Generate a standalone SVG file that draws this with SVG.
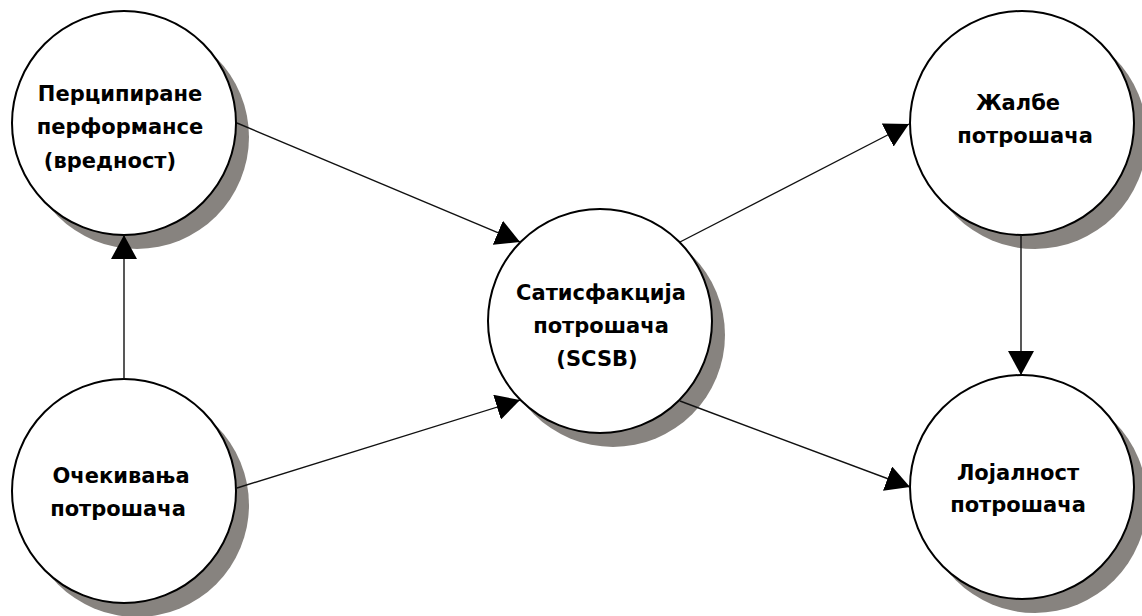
<svg xmlns="http://www.w3.org/2000/svg" width="1142" height="616" viewBox="0 0 1142 616">
  <style>
    .shadow { fill: #87837f; }
    .node { fill: #ffffff; stroke: #000000; stroke-width: 2; }
    .label { font-family: "DejaVu Sans", "Liberation Sans", sans-serif; font-weight: bold; font-size: 21px; fill: #000000; text-anchor: middle; }
    .link { stroke: #111111; stroke-width: 1.4; fill: none; marker-end: url(#head); }
  </style>
  <defs>
    <marker id="head" viewBox="0 0 24 26" refX="24" refY="13" markerWidth="24" markerHeight="26" markerUnits="userSpaceOnUse" orient="auto">
      <path d="M0,0 L24,13 L0,26 Z" fill="#000000"/>
    </marker>
  </defs>
  <rect width="1142" height="616" fill="#ffffff"/>

  <g id="perceived-performance">
    <circle class="shadow" cx="137" cy="137" r="112"/>
    <circle class="node" cx="124" cy="123" r="112"/>
    <text class="label" x="120" y="101">Перципиране</text>
    <text class="label" x="120" y="134">перформансе</text>
    <text class="label" x="110" y="168">(вредност)</text>
  </g>

  <g id="customer-expectations">
    <circle class="shadow" cx="137" cy="505" r="112"/>
    <circle class="node" cx="124" cy="491" r="112"/>
    <text class="label" x="121" y="483">Очекивања</text>
    <text class="label" x="118" y="516">потрошача</text>
  </g>

  <g id="customer-satisfaction">
    <circle class="shadow" cx="613" cy="335" r="112"/>
    <circle class="node" cx="600" cy="321" r="112"/>
    <text class="label" x="601" y="300">Сатисфакција</text>
    <text class="label" x="601" y="333">потрошача</text>
    <text class="label" x="597" y="366">(SCSB)</text>
  </g>

  <g id="customer-complaints">
    <circle class="shadow" cx="1035" cy="137" r="112"/>
    <circle class="node" cx="1022" cy="123" r="112"/>
    <text class="label" x="1018" y="110">Жалбе</text>
    <text class="label" x="1025" y="143">потрошача</text>
  </g>

  <g id="customer-loyalty">
    <circle class="shadow" cx="1035" cy="501" r="112"/>
    <circle class="node" cx="1022" cy="487" r="112"/>
    <text class="label" x="1018" y="480">Лојалност</text>
    <text class="label" x="1018" y="512">потрошача</text>
  </g>

  <g id="connectors">
    <line class="link" x1="124" y1="379" x2="124" y2="235"/>
    <line class="link" x1="237" y1="123" x2="520" y2="242"/>
    <line class="link" x1="237" y1="488" x2="520" y2="400"/>
    <line class="link" x1="680" y1="242" x2="909" y2="124"/>
    <line class="link" x1="680" y1="401" x2="910" y2="487"/>
    <line class="link" x1="1021" y1="235" x2="1021" y2="375"/>
  </g>
</svg>
